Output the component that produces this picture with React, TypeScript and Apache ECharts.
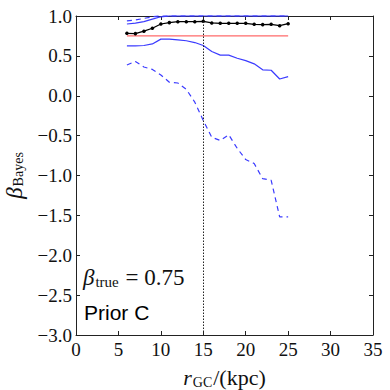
import React, { useEffect, useRef } from "react";
import * as echarts from "echarts";

const radii = [6, 7, 8, 9, 10, 11, 12, 13, 14, 15, 16, 17, 18, 19, 20, 21, 22, 23, 24, 25];
const median = [0.783, 0.779, 0.81, 0.846, 0.9, 0.917, 0.929, 0.929, 0.929, 0.933, 0.913, 0.908, 0.908, 0.908, 0.908, 0.896, 0.892, 0.896, 0.879, 0.904];
const upper68 = [0.9, 0.91, 0.93, 0.96, 0.99, 1.0, 1.0, 1.0, 1.0, 1.0, 1.0, 1.0, 1.0, 1.0, 1.0, 1.0, 1.0, 1.0, 1.0, 1.0];
const lower68 = [0.625, 0.625, 0.63, 0.65, 0.71, 0.71, 0.7, 0.69, 0.667, 0.63, 0.554, 0.51, 0.51, 0.47, 0.44, 0.4, 0.325, 0.32, 0.21, 0.24];
const upper95 = [0.94, 0.95, 0.97, 0.99, 1.0, 1.0, 1.0, 1.0, 1.0, 1.0, 1.0, 1.0, 1.0, 1.0, 1.0, 1.0, 1.0, 1.0, 1.0, 1.0];
const lower95 = [0.386, 0.43, 0.36, 0.33, 0.26, 0.17, 0.16, 0.08, -0.08, -0.31, -0.52, -0.56, -0.49, -0.66, -0.8, -0.85, -1.04, -1.06, -1.52, -1.52];
const betaTrue = 0.75;
const markerRadius = 15;
const xTicks = { min: 0, max: 35, interval: 5 };
const yTicks = { min: -3, max: 1, interval: 0.5 };

const SERIF = "'Liberation Serif', 'DejaVu Serif', serif";
const SANS = "'Liberation Sans', Arial, sans-serif";
const BLUE = "#3b3bff";
const RED = "#ff6a6a";

function pairs(vals: number[]) {
  return radii.map((r, i) => [r, vals[i]]);
}

export default function App() {
  const ref = useRef<HTMLDivElement>(null);
  useEffect(() => {
    if (!ref.current) return;
    const chart = echarts.init(ref.current, null, { renderer: "svg" });
    const axisLine = { show: true, onZero: false, lineStyle: { color: "#222", width: 1 } };
    const tick = { show: true, inside: true, length: 4, lineStyle: { color: "#222", width: 1 } };
    const xBase = { type: "value", min: xTicks.min, max: xTicks.max, interval: xTicks.interval, splitLine: { show: false }, axisLine, axisTick: tick };
    const yBase = { type: "value", min: yTicks.min, max: yTicks.max, interval: yTicks.interval, splitLine: { show: false }, axisLine, axisTick: tick };
    chart.setOption({
      animation: false,
      backgroundColor: "#fff",
      grid: { left: 76, right: 17, top: 16, bottom: 55, outerBoundsMode: "none", containLabel: false },
      xAxis: [
        {
          ...xBase,
          position: "bottom",
          axisLabel: { color: "#111", fontFamily: SERIF, fontSize: 19, margin: 5 },
          name: "{i|r}{s|GC}{n|/(kpc)}",
          nameLocation: "middle",
          nameGap: 30,
          nameTextStyle: {
            rich: {
              i: { fontFamily: SERIF, fontStyle: "italic", fontSize: 22, color: "#111" },
              s: { fontFamily: SERIF, fontSize: 14, color: "#111", padding: [10, 1, 0, 1] },
              n: { fontFamily: SERIF, fontSize: 22, color: "#111" },
            },
          },
        },
        { ...xBase, position: "top", axisLabel: { show: false } },
      ],
      yAxis: [
        {
          ...yBase,
          position: "left",
          axisLabel: {
            color: "#111",
            fontFamily: SERIF,
            fontSize: 19,
            margin: 4,
            formatter: (v: number) => (v < 0 ? "\u2212" + Math.abs(v).toFixed(1) : v.toFixed(1)),
          },
          name: "{b|\u03b2}{s|Bayes}",
          nameLocation: "middle",
          nameRotate: 90,
          nameGap: 50,
          nameTextStyle: {
            rich: {
              b: { fontFamily: SERIF, fontStyle: "italic", fontSize: 23, color: "#111" },
              s: { fontFamily: SERIF, fontSize: 14, color: "#111", padding: [8, 0, 0, 1] },
            },
          },
        },
        { ...yBase, position: "right", axisLabel: { show: false } },
      ],
      graphic: [
        {
          type: "text",
          left: 83,
          top: 266,
          style: {
            text: "{b|\u03b2}{s|true}{n| = 0.75}",
            rich: {
              b: { fontFamily: SERIF, fontStyle: "italic", fontSize: 23, fill: "#111" },
              s: { fontFamily: SERIF, fontSize: 15, fill: "#111", padding: [9, 1, 0, 1] },
              n: { fontFamily: SERIF, fontSize: 23, fill: "#111" },
            },
          },
        },
        {
          type: "text",
          left: 84,
          top: 302,
          style: { text: "Prior C", fontFamily: SANS, fontSize: 21, fill: "#000" },
        },
      ],
      series: [
        {
          type: "line",
          data: [[radii[0], betaTrue], [radii[radii.length - 1], betaTrue]],
          showSymbol: false,
          lineStyle: { color: RED, width: 1.2 },
          z: 2,
        },
        {
          type: "line",
          data: pairs(upper95),
          showSymbol: false,
          clip: false,
          lineStyle: { color: BLUE, width: 1.2, type: [5, 4] },
          z: 3,
        },
        {
          type: "line",
          data: pairs(lower95),
          showSymbol: false,
          lineStyle: { color: BLUE, width: 1.2, type: [5, 4] },
          z: 3,
        },
        {
          type: "line",
          data: pairs(upper68),
          showSymbol: false,
          clip: false,
          lineStyle: { color: BLUE, width: 1.2 },
          z: 3,
        },
        {
          type: "line",
          data: pairs(lower68),
          showSymbol: false,
          lineStyle: { color: BLUE, width: 1.2 },
          z: 3,
        },
        {
          type: "line",
          data: pairs(median),
          symbol: "circle",
          symbolSize: 3.5,
          showSymbol: true,
          itemStyle: { color: "#000" },
          lineStyle: { color: "#000", width: 1.2 },
          z: 4,
          markLine: {
            silent: true,
            symbol: "none",
            label: { show: false },
            lineStyle: { color: "#222", type: [1.5, 1.5], width: 1 },
            data: [{ xAxis: markerRadius }],
          },
        },
      ],
    });
    return () => chart.dispose();
  }, []);
  return <div ref={ref} style={{ position: "fixed", left: 0, top: 0, width: 390, height: 390 }} />;
}
